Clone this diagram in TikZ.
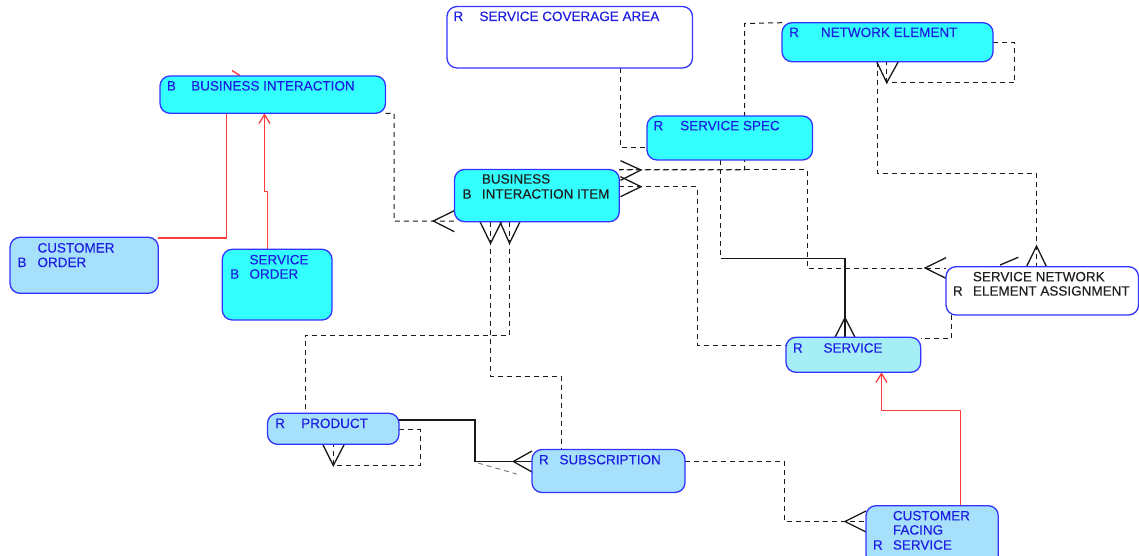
\documentclass[tikz,border=0pt]{standalone}
\usepackage{fontspec}
\setmainfont{Liberation Sans}
\newfontfamily\entfont[FakeBold=0.25]{Liberation Sans}
\usetikzlibrary{arrows.meta}
\pgfdeclarelayer{paper}
\pgfdeclarelayer{links}
\pgfsetlayers{paper,links,main}

\definecolor{entcyan}{RGB}{51,255,255}
\definecolor{entblue}{RGB}{166,224,251}
\definecolor{entaqua}{RGB}{166,238,246}
\definecolor{edgeblue}{RGB}{51,51,255}
\definecolor{txtblue}{RGB}{30,30,225}
\definecolor{txtdark}{RGB}{30,30,30}
\definecolor{relred}{RGB}{255,60,60}
\definecolor{relgrey}{RGB}{25,25,25}

\tikzset{
  entity/.style={draw=edgeblue, line width=1.3pt, rounded corners=10pt,
    rectangle, inner sep=0pt, outer sep=0pt, anchor=north west},
  etxt/.style={inner sep=0pt, anchor=base west, text=txtblue,
    font=\entfont\fontsize{13.5}{15}\selectfont},
  dtxt/.style={etxt, text=txtdark},
  dline/.style={draw=relgrey, line width=1pt, dash pattern=on 5pt off 4pt},
  sline/.style={draw=relgrey, line width=1.1pt},
  crowline/.style={draw=relgrey, line width=1.3pt},
  redline/.style={draw=relred, line width=1.4pt},
  opentip/.style={-{Straight Barb[length=9pt,width=11pt,line width=1.3pt]}}
}

\begin{document}
\begin{tikzpicture}[x=1pt,y=-1pt]
\useasboundingbox (0,0) rectangle (1139,556);
\begin{pgfonlayer}{paper}
  \fill[white] (0,0) rectangle (1139,556);
\end{pgfonlayer}

% entities
\node[entity, fill=entcyan, minimum width=225.5pt, minimum height=37.3pt] (bi) at (160,76) {};
\node[entity, fill=entblue, minimum width=148.3pt, minimum height=56pt] (co) at (10,237.3) {};
\node[entity, fill=entcyan, minimum width=109.7pt, minimum height=70.7pt] (so) at (222.3,249.3) {};
\node[entity, fill=white, minimum width=245.5pt, minimum height=61.5pt] (sca) at (447,6.5) {};
\node[entity, fill=entcyan, minimum width=211pt, minimum height=39pt] (ne) at (782,22.7) {};
\node[entity, fill=entcyan, minimum width=165.5pt, minimum height=44pt] (ss) at (647,116) {};
\node[entity, fill=entcyan, minimum width=164.8pt, minimum height=52.2pt] (bii) at (454.5,169.5) {};
\node[entity, fill=white, minimum width=192.5pt, minimum height=48.3pt] (snea) at (946,266.7) {};
\node[entity, fill=entaqua, minimum width=134.7pt, minimum height=35pt] (sv) at (786,337.3) {};
\node[entity, fill=entblue, minimum width=131.5pt, minimum height=31pt] (pr) at (267.5,413.3) {};
\node[entity, fill=entblue, minimum width=153pt, minimum height=43pt] (sub) at (532,449.5) {};
\node[entity, fill=entblue, minimum width=132.3pt, minimum height=59.3pt] (cfs) at (866,505.7) {};

% entity labels
\node[etxt] (bi-k) at (166.7,90.5) {B};
\node[etxt] (bi-t) at (191,90.5) {BUSINESS INTERACTION};
\node[etxt] (co-t1) at (37.3,252.5) {CUSTOMER};
\node[etxt] (co-k) at (17.3,267) {B};
\node[etxt] (co-t2) at (37.3,267) {ORDER};
\node[etxt] (so-t1) at (249.3,264.3) {SERVICE};
\node[etxt] (so-k) at (230,278.6) {B};
\node[etxt] (so-t2) at (249.3,278.6) {ORDER};
\node[etxt] (sca-k) at (453.3,21) {R};
\node[etxt] (sca-t) at (479.3,21) {SERVICE COVERAGE AREA};
\node[etxt] (ne-k) at (789,37) {R};
\node[etxt] (ne-t) at (820.7,37) {NETWORK ELEMENT};
\node[etxt] (ss-k) at (653.3,130.3) {R};
\node[etxt] (ss-t) at (680,130.3) {SERVICE SPEC};
\node[dtxt] (bii-t1) at (481.7,183.6) {BUSINESS};
\node[dtxt] (bii-k) at (462.3,198.6) {B};
\node[dtxt] (bii-t2) at (481.7,198.6) {INTERACTION ITEM};
\node[dtxt] (snea-t1) at (972.7,281.3) {SERVICE NETWORK};
\node[dtxt] (snea-k) at (952.7,295.6) {R};
\node[dtxt] (snea-t2) at (972.7,295.6) {ELEMENT ASSIGNMENT};
\node[etxt] (sv-k) at (792.7,352.6) {R};
\node[etxt] (sv-t) at (823.3,352.6) {SERVICE};
\node[etxt] (pr-k) at (275,428) {R};
\node[etxt] (pr-t) at (301,428) {PRODUCT};
\node[etxt] (sub-k) at (538.7,464.3) {R};
\node[etxt] (sub-t) at (559.3,464.3) {SUBSCRIPTION};
\node[etxt] (cfs-t1) at (892.7,520.3) {CUSTOMER};
\node[etxt] (cfs-t2) at (892.7,534.6) {FACING};
\node[etxt] (cfs-k) at (872.7,549.6) {R};
\node[etxt] (cfs-t3) at (892.7,549.6) {SERVICE};

% bend points
\coordinate (r1) at (226.5,238);
\coordinate (r2a) at (267.5,191.5);
\coordinate (r2b) at (264.5,191.5);
\coordinate (d1) at (394,113.3);
\coordinate (d2) at (394,221);
\coordinate (d5) at (620.5,148);
\coordinate (n1) at (744.5,23.5);
\coordinate (n2) at (744.5,170);
\coordinate (s1) at (807.5,170);
\coordinate (s2) at (807.5,268);
\coordinate (v1) at (697.5,186.7);
\coordinate (v2) at (697.5,345);
\coordinate (m1) at (720.5,258.5);
\coordinate (m2) at (845,258.5);
\coordinate (p1) at (1014.5,42.2);
\coordinate (p2) at (1014.5,82.7);
\coordinate (p3) at (886.7,82.7);
\coordinate (q1) at (877.5,173.5);
\coordinate (q2) at (1036.5,173.5);
\coordinate (t1) at (951.5,338.5);
\coordinate (u1) at (490.5,376.5);
\coordinate (u2) at (561.5,376.5);
\coordinate (w1) at (509.5,335);
\coordinate (w2) at (305,335);
\coordinate (x1) at (420,429.5);
\coordinate (x2) at (420,465.5);
\coordinate (x3) at (333.3,465.5);
\coordinate (y1) at (475,420);
\coordinate (y2) at (475,461.5);
\coordinate (z1) at (784.5,461.5);
\coordinate (z2) at (784.5,521.5);
\coordinate (k1) at (960.5,410.5);
\coordinate (k2) at (881.5,410.5);
% crow's foot apexes
\coordinate (cf-bi) at (433.3,221);
\coordinate (cf-ne1) at (641,170);
\coordinate (cf-sv1) at (641,186.7);
\coordinate (cf-snea1) at (925,268);
\coordinate (cf-sv) at (845,317.7);
\coordinate (cf-ne) at (886.7,82.7);
\coordinate (cf-snea2) at (1036.5,246);
\coordinate (cf-sub1) at (490.5,243.3);
\coordinate (cf-pr1) at (509.5,243.3);
\coordinate (cf-pr) at (333.3,465.5);
\coordinate (cf-sub) at (513.3,461.5);
\coordinate (cf-cfs) at (845,521.5);

\begin{pgfonlayer}{links}
  % supertype / subtype links
  \draw[redline] (co.east |- r1) -- (r1) -- (r1 |- bi.south);
  \draw[redline, opentip] (r2a |- so.north) -- (r2a) -- (r2b) -- (r2b |- bi.south);
  \draw[redline, opentip] (k1 |- cfs.north) -- (k1) -- (k2) -- (k2 |- sv.south);
  \draw[redline] (232,70.5) -- (240,75.5);

  % relationships
  \draw[dline] (bi.south east) -- (d1) -- (d2) -- (d2 -| bii.west);
  \draw[dline] (d5 |- sca.south) -- (d5) -- (d5 -| ss.west);
  \draw[dline] (ne.north west) -- (n1) -- (n2) -- (n2 -| bii.east);
  \draw[dline] (bii.east |- s1) -- (s1) -- (s2) -- (s2 -| snea.west);
  \draw[dline] (bii.east |- v1) -- (v1) -- (v2) -- (v2 -| sv.west);
  \draw[dline] (m1 |- ss.south) -- (m1);
  \draw[sline] (m1) -- (m2) -- (m2 |- sv.north);
  \draw[dline] (ne.east |- p1) -- (p1) -- (p2) -- (p3) -- (p3 |- ne.south);
  \draw[dline] (q1 |- ne.south) -- (q1) -- (q2) -- (q2 |- snea.north);
  \draw[dline] (t1 |- snea.south) -- (t1) -- (t1 -| sv.east);
  \draw[dline] (u1 |- bii.south) -- (u1) -- (u2) -- (u2 |- sub.north);
  \draw[dline] (w1 |- bii.south) -- (w1) -- (w2) -- (w2 |- pr.north);
  \draw[dline] (pr.east |- x1) -- (x1) -- (x2) -- (x3) -- (x3 |- pr.south);
  \draw[sline] (pr.east |- y1) -- (y1) -- (y2) -- (y2 -| sub.west);
  \draw[dline, draw=gray] (478,463) -- (516.7,474);
  \draw[dline] (sub.east |- z1) -- (z1) -- (z2) -- (z2 -| cfs.west);

  % crow's feet
  \draw[crowline, shift={(cf-bi)}] (21,-10.3) -- (0,0) -- (21,10.7);
  \draw[crowline, shift={(cf-ne1)}] (-20.5,-9.3) -- (0,0) -- (-20.5,10.3);
  \draw[crowline, shift={(cf-sv1)}] (-20.5,-10) -- (0,0) -- (-20.5,10);
  \draw[crowline, shift={(cf-snea1)}] (21,-10.3) -- (0,0) -- (21,10.3);
  \draw[crowline, shift={(cf-sv)}] (-10,19.6) -- (0,0) -- (10,19.6);
  \draw[crowline] (cf-sv) -- (cf-sv |- sv.north);
  \draw[crowline, shift={(cf-ne)}] (-10,-21) -- (0,0) -- (11.6,-21);
  \draw[crowline, shift={(cf-snea2)}] (-10,20.7) -- (0,0) -- (10,20.7);
  \draw[crowline, shift={(cf-sub1)}] (-10.5,-21.6) -- (0,0) -- (11,-21.6);
  \draw[crowline, shift={(cf-pr1)}] (-9.5,-21.6) -- (0,0) -- (10.5,-21.6);
  \draw[crowline, shift={(cf-pr)}] (-10.6,-21.2) -- (0,0) -- (11,-21.2);
  \draw[crowline, shift={(cf-sub)}] (18.7,-10.5) -- (0,0) -- (18.7,10.5);
  \draw[crowline] (cf-sub) -- (cf-sub -| sub.west);
  \draw[crowline, shift={(cf-cfs)}] (21,-10.5) -- (0,0) -- (21,10.5);
  \draw[crowline] (1000,265) -- (1018.3,257.3);
\end{pgfonlayer}
\end{tikzpicture}
\end{document}
